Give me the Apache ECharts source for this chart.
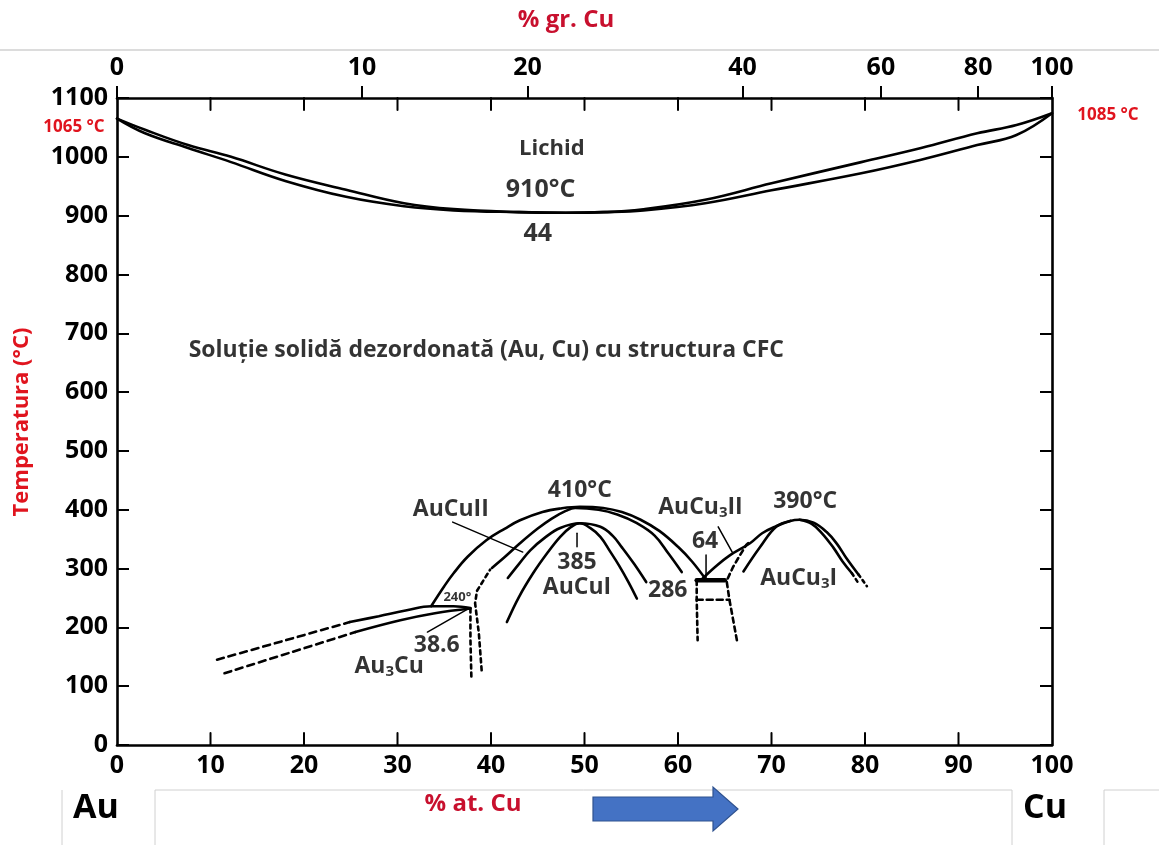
<!DOCTYPE html>
<html>
<head>
<meta charset="utf-8">
<script src="https://cdn.jsdelivr.net/npm/echarts@6/dist/echarts.min.js"></script>
<style>html,body{margin:0;padding:0;background:#fff}#c{width:1159px;height:845px}</style>
</head>
<body>
<div id="c"></div>
<script>
// ---- axis data ----
const bottomTicks = [0,10,20,30,40,50,60,70,80,90,100];
const tempTicks = [0,100,200,300,400,500,600,700,800,900,1000,1100];
const topTickAt = [0, 26.2, 43.9, 66.9, 81.7, 92.1, 100];   // positions in % at. Cu
const topTickLabels = ['0','10','20','40','60','80','100']; // % gr. Cu

// ---- curves (x = % at. Cu, y = °C) ----
const liquidus = [[0,1065],[3,1046],[7.6,1020],[12.2,1000],[18,970],[24.5,944],[30.7,921],[36,911],[43,906],[48,905],[52,906],[56.3,911],[62.9,927],[70,955],[79.6,991],[86,1015],[92,1040],[96.2,1054],[100,1074]];
const solidus = [[0,1065],[3,1040],[7.6,1015],[12.2,991],[18,959],[24.5,932],[30.7,916],[36,909],[43,906],[48,905],[52,906],[56.3,909],[62.9,921],[70,943],[79.6,972],[86,995],[92,1020],[96.2,1037],[100,1074]];

const au3cuUpper = [[24.9,209],[28,219],[31,229],[33.6,236],[36,236],[37.8,233]];
const au3cuUpperDash = [[10.7,145],[17.8,177],[24.9,209]];
const au3cuLower = [[25.5,192],[30.3,212],[34,224],[37.8,232]];
const au3cuLowerDash = [[11.5,122],[18.5,157],[25.5,192]];
const au3cuDot1 = [[37.8,232],[37.8,180],[37.9,116]];
const au3cuDot2 = [[39.0,127],[38.7,190],[38.3,241],[38.5,262],[39.9,298]];

const aucuOuter = [[33.6,236],[35,270],[36,292],[37.5,320],[39.5,348],[41.5,368],[43.1,382],[45.5,396],[47.4,402],[49.5,405],[52,403],[54,396],[56,383],[58,364],[60,337],[61.5,312],[63,281]];
const aucuSecond = [[40.1,301],[41.5,320],[43.1,343],[45,368],[46.5,385],[48,398],[49,403],[51.5,400],[53.5,392],[55.5,378],[57.5,356],[59,325],[60.4,294]];
const aucuInner1 = [[41.8,284],[43,308],[44.2,331],[45.8,353],[47.4,369],[49.5,377],[51.7,371],[53,356],[54,336],[55.3,308],[56.6,277]];
const aucuInner2 = [[41.7,209],[43,252],[44.5,292],[46,326],[47.4,354],[48.5,370],[49.5,377],[50.6,369],[51.7,354],[52.7,330],[53.7,305],[54.7,277],[55.6,249]];

const eutectoid286 = [[62,280],[65,280]];
const aucu3Outer = [[62.5,281],[64,303],[65.5,322],[67.7,343],[69,360],[70.5,372],[72,381],[73,383],[74.5,378],[75.9,362],[77,342],[78,318],[79.3,290]];
const aucu3OuterDot = [[79.3,290],[80.2,270]];
const aucu3InnerRight = [[73,383],[74.3,376],[75.4,360],[76.6,336],[77.6,312],[78.6,292]];
const aucu3InnerRightDot = [[78.6,292],[79.3,275]];
const aucu3InnerLeft = [[67,295],[68.8,337],[70.5,371],[72,381]];
const aucu3Dash = [[66.3,178],[65.5,247],[65.2,279],[65.9,303],[66.6,322],[67.3,340],[67.8,348]];
const boxLeft = [[62,279],[62,247],[62.1,178]];
const boxTop = [[62,247],[65.5,247]];

const leaders = [
  [[33.2,192],[37.5,231]],
  [[35.9,379],[43.4,328]],
  [[49.2,360],[49.2,337]],
  [[63,281],[63,323]],
  [[64.3,371],[65.8,328]]
];

// ---- annotation texts ----
const annoText = ['Lichid','910°C','44','Soluție solidă dezordonată (Au, Cu) cu structura CFC','AuCuII','410°C','385','AuCuI','286','AuCu₃II','64','390°C','AuCu₃I','240°','38.6','Au₃Cu'];
const annoX = [46.5,45.3,45.0,39.5,35.7,49.5,49.2,49.2,58.9,62.4,62.9,73.6,72.9,36.4,34.2,29.1];
const annoY = [1013,943.5,868.7,671.5,401,432,311,268.6,263.5,404.6,346.8,414.8,284,251.6,170,134.3];

const FONT = "'Open Sans', 'Noto Sans', sans-serif";
const fontSizes = {0:22,1:25,2:25,3:23,13:13};
const T_MIN = 0, T_MAX = 1100;
const PLOT_H = 647;                        // grid height in px
const TICK_T = 12 * (T_MAX - T_MIN) / PLOT_H; // 12 px tick length in °C units

const chart = echarts.init(document.getElementById('c'), null, {renderer:'canvas'});

function lineSeries(data, opts) {
  opts = opts || {};
  return {
    type:'line', data:data, xAxisIndex:0, yAxisIndex:0,
    showSymbol:false, symbol:'none', smooth: opts.smooth === undefined ? 0.4 : opts.smooth,
    silent:true, z: opts.z || 3, clip:false,
    lineStyle:{color:'#000', width: opts.width || 2.6, type: opts.type || 'solid', cap:'round'}
  };
}

const series = [
  lineSeries(liquidus), lineSeries(solidus),
  lineSeries(au3cuUpper), lineSeries(au3cuLower),
  lineSeries(au3cuUpperDash, {type:[7,5]}), lineSeries(au3cuLowerDash, {type:[7,5]}),
  lineSeries(au3cuDot1, {type:[4,4], smooth:false}), lineSeries(au3cuDot2, {type:[4,4], smooth:false}),
  lineSeries(aucuOuter), lineSeries(aucuSecond), lineSeries(aucuInner1), lineSeries(aucuInner2),
  lineSeries(eutectoid286, {width:4.5, smooth:false}),
  lineSeries(aucu3Outer), lineSeries(aucu3OuterDot, {type:[3,4], smooth:false}),
  lineSeries(aucu3InnerRight), lineSeries(aucu3InnerRightDot, {type:[3,4], smooth:false}),
  lineSeries(aucu3InnerLeft),
  lineSeries(aucu3Dash, {type:[5,4], smooth:false}),
  lineSeries(boxLeft, {type:[4,4], smooth:false}), lineSeries(boxTop, {type:[6,4], smooth:false})
];
leaders.forEach(l => series.push(lineSeries(l, {width:1.5, smooth:false})));

// inward tick marks on the bottom and top frame edges, one short segment per tick value
bottomTicks.filter(v => v > 0 && v < 100).forEach(v => {
  series.push(lineSeries([[v, T_MIN], [v, T_MIN + TICK_T]], {width:2, smooth:false, z:6}));
  series.push(lineSeries([[v, T_MAX], [v, T_MAX - TICK_T]], {width:2, smooth:false, z:6}));
});

series.push({
  type:'scatter', xAxisIndex:0, yAxisIndex:0, silent:true, z:5,
  symbolSize:1, itemStyle:{color:'rgba(0,0,0,0)'},
  data: annoText.map((t,i) => {
    const fs = fontSizes[i] || 23;
    return {
      value:[annoX[i], annoY[i]],
      label:{
        show:true, position:'inside',
        formatter: t.replace('₃','{s|3}'),
        fontFamily: FONT, fontSize: fs, fontWeight: 'bold', color:'#000',
        rich:{ s:{fontFamily:FONT, fontSize: Math.round(fs*0.65), fontWeight:'bold', color:'#000', padding:[11,0,0,0]} }
      }
    };
  })
});

const axisLineStyle = {show:true, onZero:false, lineStyle:{color:'#000', width:2.6}};
const noLine = {show:false, onZero:false};
const tickStyle = {color:'#000', width:2};
function tickIn(vals) { return {show:true, inside:true, length:12, customValues: vals, lineStyle:tickStyle}; }
function tickOut(vals) { return {show:true, inside:false, length:12, customValues: vals, lineStyle:tickStyle}; }
const lblStyle = {fontFamily:FONT, fontSize:25, fontWeight:'bold', color:'#000'};
const hidden = {show:false};

const option = {
  animation:false,
  backgroundColor:'#fff',
  grid:{left:117, right:107, top:98, bottom:100, containLabel:false},
  xAxis:[
    {type:'value', position:'bottom', min:0, max:100, interval:10, axisLine:axisLineStyle, axisTick:hidden,
     axisLabel:Object.assign({margin:8, customValues: bottomTicks, formatter: v => String(v)}, lblStyle), splitLine:hidden},
    {type:'value', position:'top', min:0, max:100, interval:10, axisLine:axisLineStyle, axisTick:hidden,
     axisLabel:hidden, splitLine:hidden},
    {type:'value', position:'top', min:0, max:100, axisLine:noLine, axisTick:tickOut(topTickAt),
     axisLabel:Object.assign({margin:18, customValues: topTickAt,
       formatter: v => { const i = topTickAt.findIndex(t => Math.abs(t - v) < 1e-6); return i >= 0 ? topTickLabels[i] : ''; }}, lblStyle),
     splitLine:hidden}
  ],
  yAxis:[
    {type:'value', position:'left', min:T_MIN, max:T_MAX, interval:100, axisLine:axisLineStyle, axisTick:tickIn(tempTicks),
     axisLabel:Object.assign({margin:9, customValues: tempTicks, formatter: v => String(v)}, lblStyle), splitLine:hidden},
    {type:'value', position:'right', min:T_MIN, max:T_MAX, interval:100, axisLine:axisLineStyle, axisTick:tickIn(tempTicks),
     axisLabel:hidden, splitLine:hidden}
  ],
  series: series,
  graphic:[
    {type:'line', shape:{x1:0,y1:50,x2:1159,y2:50}, style:{stroke:'#d0d0d0', lineWidth:1.5}, silent:true},
    {type:'text', x:566, y:20, style:{text:'% gr. Cu', font:"bold 24px 'Open Sans', sans-serif", fill:'#c8102e', align:'center', verticalAlign:'middle'}},
    {type:'text', x:74, y:127, style:{text:'1065 °C', font:"bold 17px 'Open Sans', sans-serif", fill:'#e0141e', align:'center', verticalAlign:'middle'}},
    {type:'text', x:1108, y:115, style:{text:'1085 °C', font:"bold 17px 'Open Sans', sans-serif", fill:'#e0141e', align:'center', verticalAlign:'middle'}},
    {type:'text', x:22, y:422, rotation:Math.PI/2, style:{text:'Temperatura (°C)', font:"bold 22px 'Open Sans', sans-serif", fill:'#e0141e', align:'center', verticalAlign:'middle'}},
    {type:'line', shape:{x1:62,y1:790,x2:62,y2:845}, style:{stroke:'#d0d0d0', lineWidth:1}, silent:true},
    {type:'line', shape:{x1:155,y1:790,x2:155,y2:845}, style:{stroke:'#d0d0d0', lineWidth:1}, silent:true},
    {type:'line', shape:{x1:155,y1:790,x2:1012,y2:790}, style:{stroke:'#d0d0d0', lineWidth:1}, silent:true},
    {type:'line', shape:{x1:1012,y1:790,x2:1012,y2:845}, style:{stroke:'#d0d0d0', lineWidth:1}, silent:true},
    {type:'line', shape:{x1:1104,y1:790,x2:1104,y2:845}, style:{stroke:'#d0d0d0', lineWidth:1}, silent:true},
    {type:'line', shape:{x1:1104,y1:790,x2:1159,y2:790}, style:{stroke:'#d0d0d0', lineWidth:1}, silent:true},
    {type:'text', x:96, y:808, style:{text:'Au', font:"bold 34px 'Open Sans', sans-serif", fill:'#000', align:'center', verticalAlign:'middle'}},
    {type:'text', x:1045, y:808, style:{text:'Cu', font:"bold 34px 'Open Sans', sans-serif", fill:'#000', align:'center', verticalAlign:'middle'}},
    {type:'text', x:473, y:804, style:{text:'% at. Cu', font:"bold 24px 'Open Sans', sans-serif", fill:'#c8102e', align:'center', verticalAlign:'middle'}},
    {type:'polygon', shape:{points:[[593,797],[713,797],[713,787],[738,809],[713,831],[713,821],[593,821]]},
     style:{fill:'#4472c4', stroke:'#2f528f', lineWidth:1.2}}
  ]
};
chart.setOption(option);
</script>
</body>
</html>
